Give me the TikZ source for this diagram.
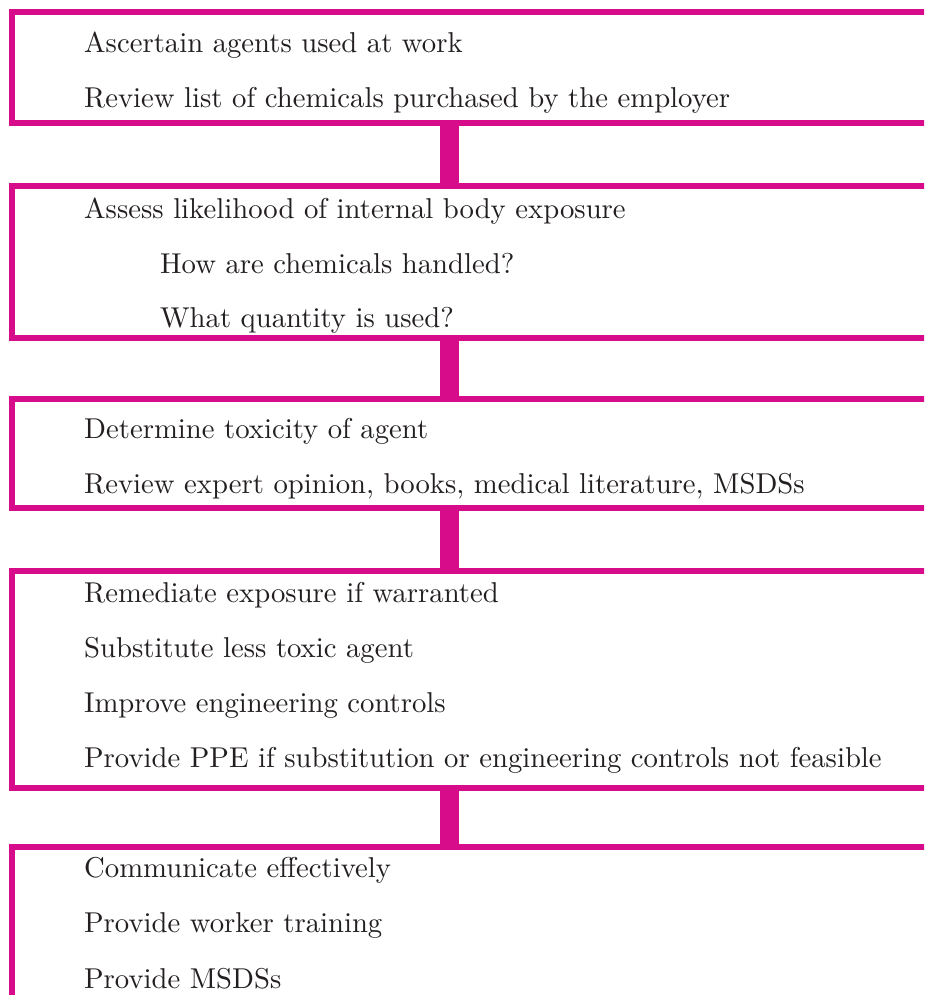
\documentclass[tikz,border=0pt]{standalone}
\usetikzlibrary{calc}
\definecolor{mag}{RGB}{215,12,139}
\definecolor{ink}{RGB}{35,31,32}
\font\bodyfont="[lmroman10-regular]:mapping=tex-text" at 28.7pt
\begin{document}
\begin{tikzpicture}[x=1pt,y=-1pt,
  stagebox/.style={draw=mag, line width=6pt, inner sep=0pt, outer sep=0pt, anchor=north west, minimum width=940pt},
  linktxt/.style={anchor=base west, inner sep=0pt, text=ink, font=\bodyfont},
  link/.style={draw=mag, line width=19pt}]
\useasboundingbox (0,0) rectangle (924,995);
\clip (0,0) rectangle (924,995);
\node[stagebox, minimum height=111pt] (b1) at (11.5,12.5) {};
\node[stagebox, minimum height=152pt] (b2) at (11.5,186) {};
\node[stagebox, minimum height=109pt] (b3) at (11.5,399) {};
\node[stagebox, minimum height=217pt] (b4) at (11.5,571) {};
\node[stagebox, minimum height=180pt] (b5) at (11.5,847) {};
\coordinate (cx) at (449.5,0);
\draw[link] (b1.south -| cx) -- (b2.north -| cx);
\draw[link] (b2.south -| cx) -- (b3.north -| cx);
\draw[link] (b3.south -| cx) -- (b4.north -| cx);
\draw[link] (b4.south -| cx) -- (b5.north -| cx);
\node[linktxt] (t11) at (84,53) {Ascertain agents used at work};
\node[linktxt] (t12) at (84,108) {Review list of chemicals purchased by the employer};
\node[linktxt] (t21) at (84,218) {Assess likelihood of internal body exposure};
\node[linktxt] (t22) at (160,273) {How are chemicals handled?};
\node[linktxt] (t23) at (160,327) {What quantity is used?};
\node[linktxt] (t31) at (84,438) {Determine toxicity of agent};
\node[linktxt] (t32) at (84,493) {Review expert opinion, books, medical literature, MSDSs};
\node[linktxt] (t41) at (84,602) {Remediate exposure if warranted};
\node[linktxt] (t42) at (84,657) {Substitute less toxic agent};
\node[linktxt] (t43) at (84,712) {Improve engineering controls};
\node[linktxt] (t44) at (84,767) {Provide PPE if substitution or engineering controls not feasible};
\node[linktxt] (t51) at (84,877) {Communicate effectively};
\node[linktxt] (t52) at (84,932) {Provide worker training};
\node[linktxt] (t53) at (84,988) {Provide MSDSs};
\end{tikzpicture}
\end{document}
